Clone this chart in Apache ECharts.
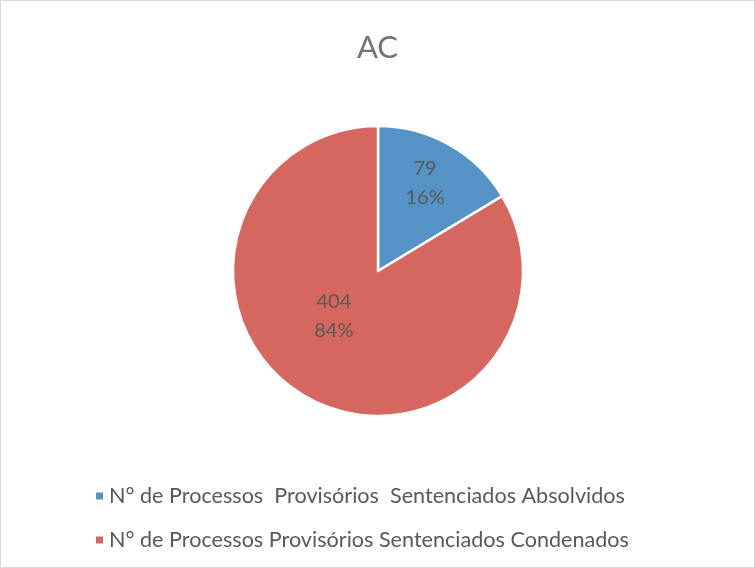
<!DOCTYPE html>
<html>
<head>
<meta charset="utf-8">
<script src="https://cdn.jsdelivr.net/npm/echarts@6/dist/echarts.min.js"></script>
<style>
  html, body { margin: 0; padding: 0; background: #fff; }
  #chart { width: 755px; height: 568px; box-sizing: border-box; border: 1px solid #d9d9d9; }
</style>
</head>
<body>
<div id="chart"></div>
<script>
// dados do gráfico
var categorias = [
  "N° de Processos  Provisórios  Sentenciados Absolvidos",
  "N° de Processos Provisórios Sentenciados Condenados"
];
var valores = [79, 404];
var cores = ["#5593C7", "#D5675F"];

var chart = echarts.init(document.getElementById("chart"));

var option = {
  title: {
    text: "AC",
    left: "center",
    top: 26,
    textStyle: { fontFamily: "Lato", fontSize: 31, fontWeight: "normal", color: "#757575" }
  },
  color: cores,
  legend: {
    orient: "vertical",
    left: 88,
    top: 479,
    itemGap: 22,
    itemWidth: 9,
    itemHeight: 9,
    icon: "rect",
    textStyle: { fontFamily: "Lato", fontSize: 21.6, color: "#595959" },
    data: categorias
  },
  series: [
    {
      name: "AC",
      type: "pie",
      center: [377, 270],
      radius: [0, 145],
      startAngle: 90,
      clockwise: true,
      silent: true,
      itemStyle: { borderColor: "#fff", borderWidth: 2.5 },
      label: {
        show: true,
        position: "inside",
        formatter: function (p) { return p.value + "\n" + Math.round(p.percent) + "%"; },
        fontFamily: "Lato",
        fontSize: 20,
        lineHeight: 29,
        color: "#595959"
      },
      labelLayout: function (p) {
        // ajuste tipo "melhor ajuste" do Excel
        if (p.dataIndex === 0) return { dx: 10, dy: -22 };
        return { dx: -7, dy: -21 };
      },
      data: categorias.map(function (c, i) { return { name: c, value: valores[i] }; })
    }
  ]
};

chart.setOption(option);
</script>
</body>
</html>
